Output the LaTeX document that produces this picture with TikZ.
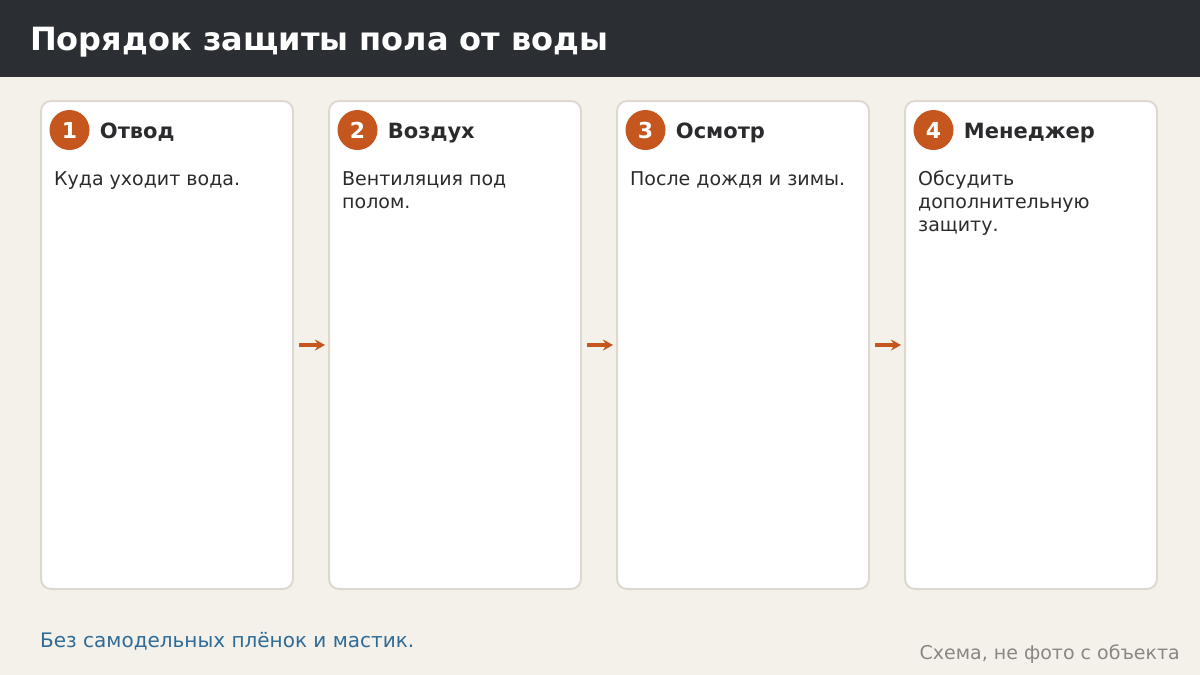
\documentclass[tikz,border=0pt]{standalone}
\usepackage{fontspec}
\setmainfont{DejaVu Sans}
\usetikzlibrary{arrows.meta, positioning}
\definecolor{paper}{RGB}{244,241,235}
\definecolor{band}{RGB}{43,46,51}
\definecolor{edge}{RGB}{222,216,207}
\definecolor{rust}{RGB}{196,86,30}
\definecolor{ink}{RGB}{43,43,46}
\definecolor{note}{RGB}{46,107,150}
\definecolor{muted}{RGB}{138,134,130}
\tikzstyle{card} = [rectangle, draw=edge, line width=2pt, fill=white, rounded corners=10pt, minimum width=252pt, minimum height=488pt, inner sep=0pt]
\tikzstyle{num} = [circle, fill=rust, text=white, minimum size=40pt, inner sep=0pt, font=\fontsize{22}{26}\selectfont\bfseries]
\tikzstyle{head} = [text=ink, inner sep=0pt, text height=19pt, text depth=2pt, font=\fontsize{21}{25}\selectfont\bfseries]
\tikzstyle{body} = [text=ink, anchor=north west, align=left, inner sep=0pt, font=\fontsize{19}{23}\selectfont]
\tikzstyle{arrow} = [line width=3.5pt, -{Stealth[length=10pt, width=11pt]}, draw=rust, shorten <=5pt, shorten >=3pt]

\begin{document}
\begin{tikzpicture}[x=1pt, y=-1pt, node distance=288pt]
  % Background and title
  \fill[paper] (0,0) rectangle (1200,675);
  \fill[band] (0,0) rectangle (1200,77);
  \node (title)[anchor=base west, inner sep=0pt, text=white, font=\fontsize{32}{38}\selectfont\bfseries] at (30,50) {Порядок защиты пола от воды};
  % Draw cards
  \node (c1)[card] at (167,345) {};
  \node (c2)[card, right of=c1] {};
  \node (c3)[card, right of=c2] {};
  \node (c4)[card, right of=c3] {};
  % Draw steps
  \node (n1)[num, label={[head, label distance=10pt]right:Отвод}] at ([xshift=29.5pt,yshift=-30pt]c1.north west) {1};
  \node (t1)[body] at ([xshift=14pt,yshift=-71pt]c1.north west) {Куда уходит вода.};
  \node (n2)[num, label={[head, label distance=10pt]right:Воздух}] at ([xshift=29.5pt,yshift=-30pt]c2.north west) {2};
  \node (t2)[body] at ([xshift=14pt,yshift=-71pt]c2.north west) {Вентиляция под\\полом.};
  \node (n3)[num, label={[head, label distance=10pt]right:Осмотр}] at ([xshift=29.5pt,yshift=-30pt]c3.north west) {3};
  \node (t3)[body] at ([xshift=14pt,yshift=-71pt]c3.north west) {После дождя и зимы.};
  \node (n4)[num, label={[head, label distance=10pt]right:Менеджер}] at ([xshift=29.5pt,yshift=-30pt]c4.north west) {4};
  \node (t4)[body] at ([xshift=14pt,yshift=-71pt]c4.north west) {Обсудить\\дополнительную\\защиту.};
  % Draw arrows
  \draw [arrow] (c1) -- (c2);
  \draw [arrow] (c2) -- (c3);
  \draw [arrow] (c3) -- (c4);
  % Footer
  \node (foot)[anchor=base west, inner sep=0pt, text=note, font=\fontsize{20}{24}\selectfont] at (40,647) {Без самодельных плёнок и мастик.};
  \node (credit)[anchor=base east, inner sep=0pt, text=muted, font=\fontsize{19}{23}\selectfont] at (1180,659) {Схема, не фото с объекта};
\end{tikzpicture}
\end{document}
